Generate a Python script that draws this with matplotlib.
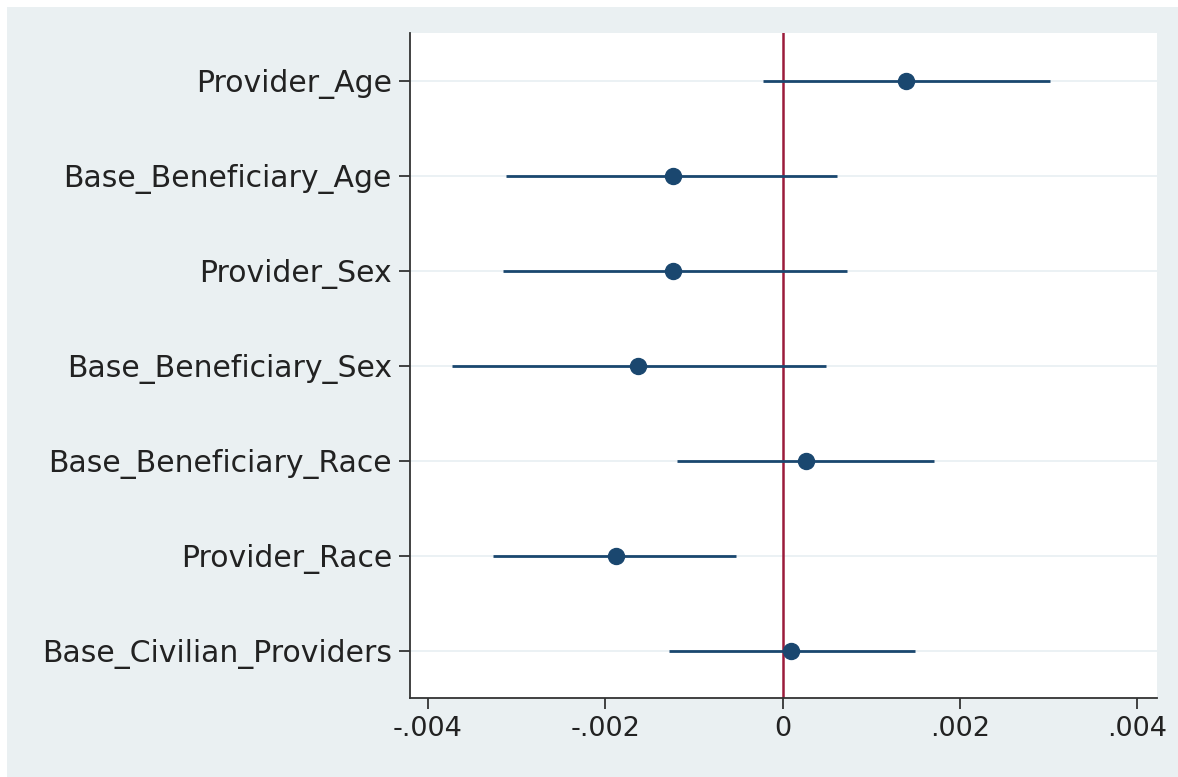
import matplotlib
matplotlib.use("Agg")
import matplotlib.pyplot as plt
from matplotlib.patches import Rectangle

labels = ["Provider_Age", "Base_Beneficiary_Age", "Provider_Sex",
          "Base_Beneficiary_Sex", "Base_Beneficiary_Race", "Provider_Race",
          "Base_Civilian_Providers"]
coef = [0.001388, -0.001235, -0.001235, -0.00163, 0.00026, -0.00188, 0.00010]
ci_low = [-0.000226, -0.003115, -0.00315, -0.00373, -0.00119, -0.00327, -0.00128]
ci_high = [0.003013, 0.000609, 0.000722, 0.000485, 0.00171, -0.00052, 0.00149]
xticks = [-0.004, -0.002, 0, 0.002, 0.004]
xticklabels = ["-.004", "-.002", "0", ".002", ".004"]

bg = "#eaf0f2"
navy = "#1a476f"
red = "#9b1b3a"

fig = plt.figure(figsize=(11.78, 7.77), dpi=100, facecolor="white")
fig.patches.append(Rectangle((7/1178, 0), 1, 770/777, transform=fig.transFigure,
                             facecolor=bg, edgecolor="none", zorder=-10))
ax = fig.add_axes([410/1178, 1-698/777, (1157-410)/1178, (698-33)/777])
ax.set_facecolor("white")

y = list(range(1, len(labels) + 1))
for yi in y:
    ax.axhline(yi, color="#e8eff2", lw=1.2, zorder=0)
ax.axvline(0, color=red, lw=1.8, zorder=1)
ax.hlines(y, ci_low, ci_high, color=navy, lw=2.0, zorder=2)
ax.plot(coef, y, "o", color=navy, markersize=11.5, zorder=3)

ax.set_ylim(7.5, 0.5)
ax.set_xlim(-0.0042, 0.00422)
ax.set_yticks(y)
ax.set_yticklabels(labels, fontsize=21.5, color="#222222")
ax.set_xticks(xticks)
ax.set_xticklabels(xticklabels, fontsize=19.5, color="#222222")
for s in ["top", "right"]:
    ax.spines[s].set_visible(False)
for s in ["left", "bottom"]:
    ax.spines[s].set_color("#333333")
    ax.spines[s].set_linewidth(1.3)
ax.tick_params(axis="both", length=8, width=1.3, color="#333333", pad=5)

fig.savefig("out.png", dpi=100, facecolor=fig.get_facecolor())
